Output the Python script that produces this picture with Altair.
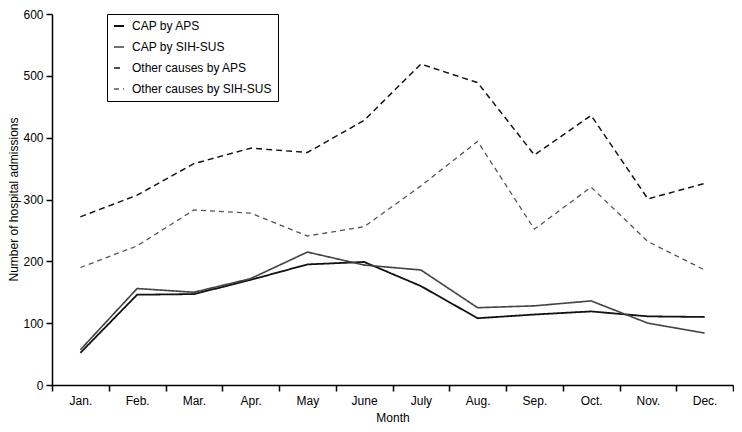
import altair as alt
import pandas as pd

months = ["Jan.", "Feb.", "Mar.", "Apr.", "May", "June", "July", "Aug.", "Sep.", "Oct.", "Nov.", "Dec."]
series = ["CAP by APS", "CAP by SIH-SUS", "Other causes by APS", "Other causes by SIH-SUS"]
cap_aps = [52, 146, 147, 170, 195, 199, 160, 108, 114, 119, 111, 110]
cap_sih = [57, 156, 150, 172, 215, 194, 186, 125, 128, 136, 100, 84]
other_aps = [272, 307, 358, 383, 376, 428, 519, 489, 372, 436, 301, 326]
other_sih = [190, 225, 283, 278, 241, 256, 322, 394, 252, 320, 232, 186]

rows = []
for name, vals in zip(series, [cap_aps, cap_sih, other_aps, other_sih]):
    for m, v in zip(months, vals):
        rows.append({"Month": m, "value": v, "series": name})
df = pd.DataFrame(rows)

font = "Liberation Sans"

chart = alt.Chart(df).mark_line().encode(
    x=alt.X("Month:N", sort=months, title="Month",
            scale=alt.Scale(paddingInner=0, paddingOuter=0),
            axis=alt.Axis(labelAngle=0, tickBand="extent", grid=False, tickSize=6,
                          labelPadding=4, titlePadding=6)),
    y=alt.Y("value:Q", title="Number of hospital admissions",
            scale=alt.Scale(domain=[0, 600]),
            axis=alt.Axis(values=[0, 100, 200, 300, 400, 500, 600], grid=False, tickSize=6,
                          labelPadding=3, titleX=-32, titleY=185, titleBaseline="bottom",
                          titleAngle=270, titleAlign="center")),
    color=alt.Color("series:N", sort=series,
                    scale=alt.Scale(domain=series, range=["#111111", "#444444", "#111111", "#555555"]),
                    legend=alt.Legend(title=None, orient="none", legendX=55, legendY=0,
                                      symbolType="stroke", symbolSize=100,
                                      fillColor="white", strokeColor="black",
                                      padding=6, rowPadding=9, labelFontSize=12,
                                      labelOffset=7, labelFont=font, symbolStrokeWidth=1.5)),
    strokeDash=alt.StrokeDash("series:N", sort=series,
                              scale=alt.Scale(domain=series, range=[[1, 0], [1, 0], [6, 4], [5, 4]])),
    strokeWidth=alt.StrokeWidth("series:N", sort=series,
                                scale=alt.Scale(domain=series, range=[1.8, 1.3, 1.8, 1.3])),
    detail="series:N",
).properties(
    width=681, height=371,
    autosize=alt.AutoSizeParams(type="none"),
    padding={"left": 44, "top": 6, "right": 1, "bottom": 39},
).configure_view(
    stroke=None
).configure_axis(
    labelFont=font, titleFont=font, labelFontSize=12, titleFontSize=12,
    titleFontWeight="normal", labelColor="black", titleColor="black",
    domainColor="black", tickColor="black", domainWidth=1.5, tickWidth=1.5
)

chart.save("out.html", embed_options={"renderer": "svg", "actions": False})
